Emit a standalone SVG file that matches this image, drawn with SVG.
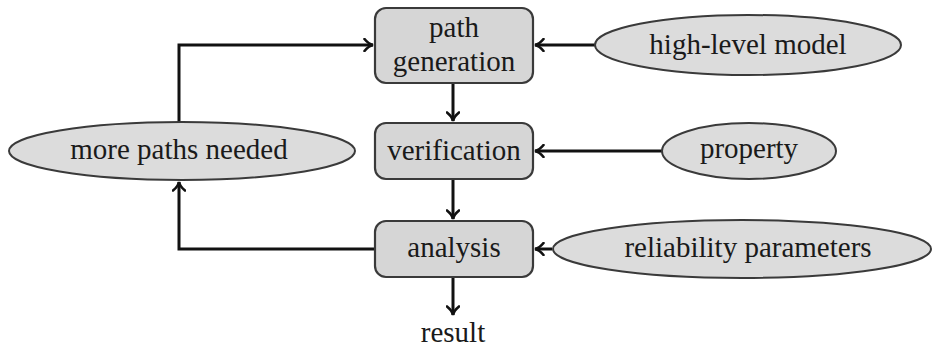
<svg xmlns="http://www.w3.org/2000/svg" width="932" height="347" viewBox="0 0 932 347">
<style>
.box{fill:#d6d6d6;stroke:#3a3a3a;stroke-width:2.2}
.ell{fill:#dcdcdc;stroke:#3a3a3a;stroke-width:2}
.lbl{font-size:29px;fill:#1a1a1a;text-anchor:middle}
.con{fill:none;stroke:#111;stroke-width:3;marker-end:url(#ah)}
</style>
<defs>
<marker id="ah" viewBox="0 0 12 14" refX="10.5" refY="7" markerWidth="12" markerHeight="14" markerUnits="userSpaceOnUse" orient="auto">
<path d="M2,1 Q6,6 10.5,7 Q6,8 2,13" fill="none" stroke="#111" stroke-width="2.6" stroke-linecap="round"/>
</marker>
</defs>
<rect width="932" height="347" fill="#fff"/>
<g id="connectors">
<path class="con" d="M453,83 V121"/>
<path class="con" d="M453,179 V219"/>
<path class="con" d="M453,277 V315"/>
<path class="con" d="M595,45 H535"/>
<path class="con" d="M662,151 H535"/>
<path class="con" d="M552,249 H535"/>
<path class="con" d="M179,122 V45 H373"/>
<path class="con" d="M375,249 H179 V182"/>
</g>
<g font-family="Liberation Serif, DejaVu Serif, serif">
<g id="path-generation">
<rect class="box" x="375" y="8" width="158" height="75" rx="11"/>
<text class="lbl" x="454" y="37">path</text>
<text class="lbl" x="454" y="71">generation</text>
</g>
<g id="verification">
<rect class="box" x="375" y="123" width="158" height="56" rx="11"/>
<text class="lbl" x="454" y="160">verification</text>
</g>
<g id="analysis">
<rect class="box" x="375" y="221" width="158" height="56" rx="11"/>
<text class="lbl" x="454" y="257">analysis</text>
</g>
<g id="result">
<text class="lbl" x="453" y="342">result</text>
</g>
<g id="more-paths-needed">
<ellipse class="ell" cx="182" cy="151" rx="173" ry="29"/>
<text class="lbl" x="179" y="159">more paths needed</text>
</g>
<g id="high-level-model">
<ellipse class="ell" cx="748" cy="45" rx="153" ry="30"/>
<text class="lbl" x="748" y="54">high-level model</text>
</g>
<g id="property">
<ellipse class="ell" cx="749" cy="151" rx="87" ry="28"/>
<text class="lbl" x="749" y="158">property</text>
</g>
<g id="reliability-parameters">
<ellipse class="ell" cx="742" cy="249" rx="189" ry="29"/>
<text class="lbl" x="748" y="257">reliability parameters</text>
</g>
</g>
</svg>
